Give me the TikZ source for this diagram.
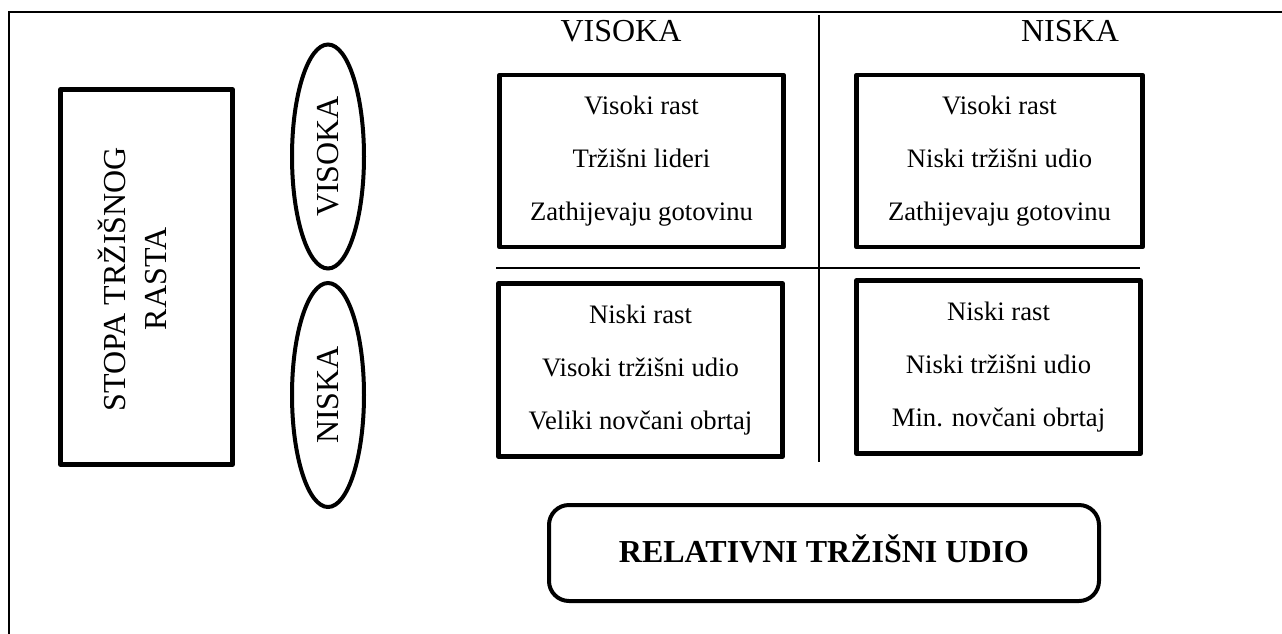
\documentclass[tikz,border=0pt]{standalone}
\usepackage{fontspec}
\setmainfont{Liberation Serif}
\usetikzlibrary{shapes.geometric}
\begin{document}
\begin{tikzpicture}[x=0.75pt,y=-0.75pt,
  thin line/.style={line width=1.5pt},
  cell/.style={draw, line width=3.6pt, line join=round, inner sep=0pt, align=center,
    minimum width=284*0.75pt, minimum height=172*0.75pt, font=\fontsize{20}{40}\selectfont},
  oval/.style={draw, ellipse, line width=3pt, rotate=90, inner sep=0pt,
    minimum width=224*0.75pt, minimum height=72*0.75pt, font=\fontsize{24}{29}\selectfont},
  biglabel/.style={font=\fontsize{24}{31}\selectfont, inner sep=0pt},
  stopbox/.style={draw, line width=3.6pt, line join=round, inner sep=0pt,
    minimum width=172*0.75pt, minimum height=375*0.75pt},
  axisbox/.style={draw, line width=3pt, rounded corners=15pt, inner sep=0pt,
    minimum width=550*0.75pt, minimum height=96*0.75pt}]
\useasboundingbox (0,0) rectangle (1282,633);
% outer frame (cut by the page at right and bottom)
\draw[thin line] (9,645) -- (9,12) -- (1295,12);

% left box
\node[stopbox] (rast) at (146.5,277) {};
\node[biglabel, rotate=90, align=center, font=\fontsize{24}{30.75}\selectfont] (rasttext) at (132.5,279) {STOPA TRŽIŠNOG\\RASTA};

% ellipses
\node[oval] (ovis) at (328,156.5) {VISOKA};
\node[oval] (onis) at (328,395) {NISKA};

% column headers
\node[biglabel] (hvis) at (621,31) {VISOKA};
\node[biglabel] (hnis) at (1070,31) {NISKA};

% dividers
\draw[thin line] (819,15) -- (819,462);
\draw[thin line] (496,268) -- (1140,268);

% matrix cells
\node[cell] (c11) at (641.5,161) {Visoki rast\\Tržišni lideri\\Zathijevaju gotovinu};
\node[cell, minimum width=286*0.75pt] (c12) at (999.5,161) {Visoki rast\\Niski tržišni udio\\Zathijevaju gotovinu};
\node[cell, minimum height=173*0.75pt] (c21) at (640.5,370) {Niski rast\\Visoki tržišni udio\\Veliki novčani obrtaj};
\node[cell, minimum height=173*0.75pt] (c22) at (998.5,367) {Niski rast\\Niski tržišni udio\\Min. novčani obrtaj};

% bottom rounded box
\node[axisbox] (axis) at (824,553) {};
\node[biglabel, font=\fontsize{24}{29}\selectfont\bfseries] (axistext) at (824,549) {RELATIVNI TRŽIŠNI UDIO};
\end{tikzpicture}
\end{document}
